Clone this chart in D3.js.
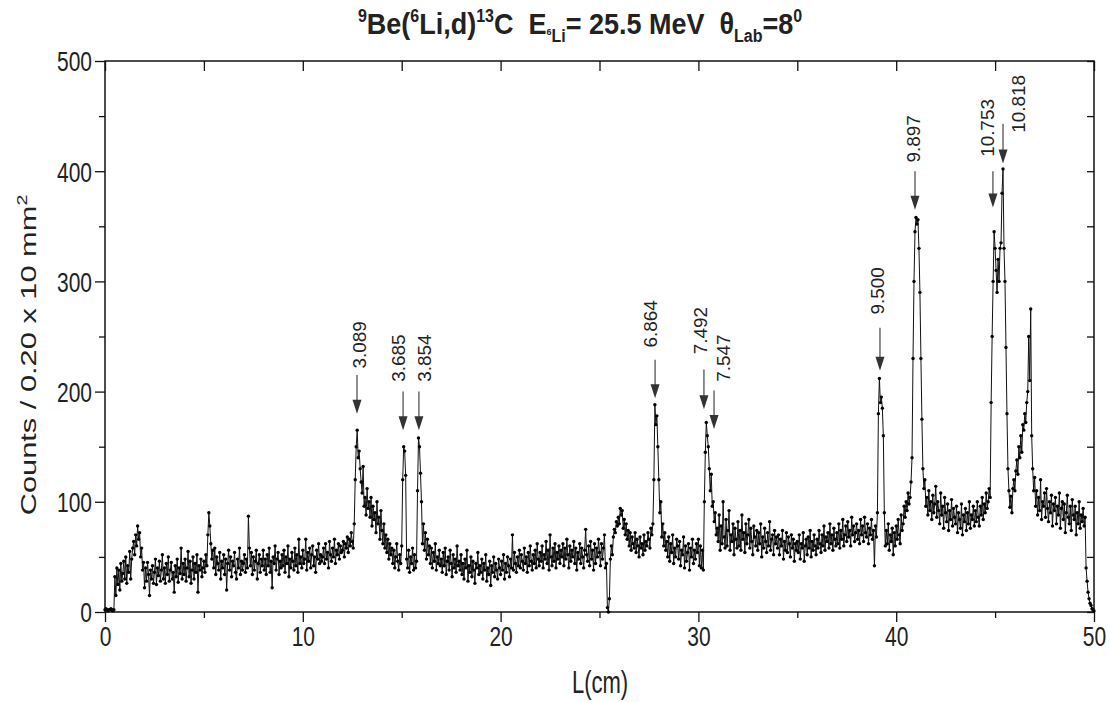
<!DOCTYPE html>
<html lang="en">
<head>
<meta charset="utf-8">
<title>9Be(6Li,d)13C spectrum</title>
<script src="https://cdnjs.cloudflare.com/ajax/libs/d3/7.7.0/d3.min.js"></script>
<style>
  body { margin: 0; background: #fff; }
  svg text { font-family: "Liberation Sans", Arial, sans-serif; fill: #222; }
</style>
</head>
<body>
<div id="chart"></div>
<script>
// counts per 0.05 cm bin (one row per cm)
const binWidth = 0.05;
const counts = [
  2,3,2,1,2,2,3,2,1,2, 32,15,40,25,38,20,44,28,35,46,
  30,50,26,42,36,55,30,48,58,64, 52,70,60,78,66,72,50,58,38,45,
  22,40,28,45,34,15,38,30,42,26, 36,48,25,40,33,46,28,38,52,30,
  40,26,44,34,50,28,38,45,30,36, 18,42,32,48,27,40,35,58,30,44,
  34,48,28,40,55,32,46,26,38,50, 30,44,36,52,18,42,38,48,32,40,
  46,36,52,42,70,90,78,62,48,56, 40,58,34,50,44,38,54,30,46,40,
  52,34,48,20,44,56,38,50,32,46, 42,54,36,30,48,40,58,34,46,38,
  44,52,36,48,40,87,58,42,54,34, 50,38,46,56,30,44,52,36,48,42,
  56,38,48,34,52,42,58,36,46,22, 50,44,60,38,48,54,34,46,40,52,
  42,56,36,50,44,60,32,48,40,54, 46,38,58,42,52,36,66,44,50,40,
  56,44,48,66,38,54,46,58,40,52, 60,42,50,36,56,48,62,44,52,46,
  50,58,44,62,48,54,40,64,52,46, 58,50,66,44,56,52,62,48,60,54,
  56,64,50,62,58,68,54,66,60,72, 64,58,80,120,150,165,140,146,130,118,
  108,132,96,104,88,112,94,100,86,104, 78,96,84,90,72,100,80,86,66,92,
  74,62,80,58,70,54,66,48,62,52, 58,44,56,40,50,62,46,38,52,44,
  60,120,150,146,124,48,40,56,36,50, 44,58,38,52,40,46,110,158,150,126,
  100,62,80,56,72,48,66,52,60,44, 58,40,54,46,62,38,50,44,56,42,
  48,36,54,42,58,34,46,50,38,56, 44,32,52,40,48,36,60,42,46,38,
  52,34,44,30,48,40,56,28,42,36, 50,32,46,38,26,44,40,54,34,42,
  36,48,30,44,38,52,28,40,34,46, 24,42,36,50,32,44,38,30,48,40,
  34,46,38,52,30,44,36,50,42,32, 48,40,70,38,54,44,36,50,42,56,
  40,52,46,38,58,44,50,36,54,42, 60,46,38,52,44,56,40,62,48,42,
  54,46,60,40,52,48,64,44,56,38, 70,50,42,58,46,62,40,54,48,60,
  44,56,50,62,42,58,48,66,52,40, 60,46,56,50,64,44,58,38,54,48,
  62,44,58,50,40,56,75,52,46,60, 42,64,48,56,38,62,44,58,50,66,
  54,42,62,48,58,70,40,44,4,0, 12,48,60,52,68,75,72,82,78,86,
  80,94,88,92,76,84,70,80,66,74, 60,72,56,68,62,58,72,54,66,60,
  50,68,58,62,52,70,56,64,60,72, 66,58,76,70,80,120,188,170,178,150,
  120,90,100,68,80,60,72,56,64,50, 68,46,62,54,70,44,58,50,66,60,
  48,64,42,56,52,68,40,60,46,54, 62,38,58,50,66,44,56,48,62,54,
  66,42,60,40,56,38,100,145,172,160, 150,130,110,125,96,100,82,90,70,76,
  64,88,56,78,62,100,68,58,84,60, 74,92,56,70,64,80,52,76,66,58,
  82,60,74,56,88,66,72,54,80,62, 70,84,58,76,64,52,78,68,60,74,
  56,72,62,80,50,68,58,76,64,54, 72,60,82,56,66,70,52,74,62,68,
  58,70,52,66,60,74,48,64,56,72, 54,68,62,50,70,58,66,46,62,56,
  64,54,70,48,62,58,72,46,60,66, 52,68,58,74,50,64,56,70,60,52,
  66,58,74,62,54,70,60,78,56,68, 64,72,58,80,62,70,56,76,66,60,
  72,62,80,58,74,66,84,60,70,78, 64,82,68,74,60,86,70,78,64,72,
  80,66,74,62,84,70,78,64,86,72, 68,80,62,76,70,84,66,74,42,78,
  68,90,180,212,190,195,185,160,90,60, 74,62,80,56,70,64,76,52,72,60,
  78,66,84,70,62,88,74,80,96,86, 100,92,108,98,104,118,140,230,300,345,
  358,352,356,330,290,230,175,130,112,120, 96,104,88,110,92,100,84,106,90,98,
  114,86,100,92,80,108,88,96,76,104, 90,82,98,74,92,84,102,78,94,86,
  80,96,72,90,84,76,98,70,88,82, 94,74,90,80,100,76,88,84,96,78,
  92,82,100,86,78,96,88,104,84,98, 90,108,94,100,112,104,190,250,300,345,
  330,310,290,320,300,330,335,380,402,330, 300,240,180,130,110,95,105,90,112,120,
  110,128,138,125,150,140,160,145,170,165, 180,172,190,200,250,210,275,160,130,110,
  122,96,110,88,104,92,120,84,100,96, 108,86,112,94,82,100,90,106,78,98,
  92,104,80,96,88,108,76,94,100,84, 98,72,90,106,86,80,96,74,102,88,
  84,96,70,90,80,100,76,88,82,94, 78,86,40,28,18,12,8,6,3,2,
  1
];

// peak markers: label, arrow position (cm), arrow top/tip (counts), label position
const peakLabels   = ["3.089","3.685","3.854","6.864","7.492","7.547","9.500","9.897","10.753","10.818"];
const peakArrowL   = [12.74, 15.07, 15.87, 27.81, 30.28, 30.79, 39.18, 40.95, 44.89, 45.40];
const peakArrowTop = [215, 200, 200, 229, 220, 201, 258, 400, 400, 443];
const peakArrowTip = [180, 165, 165, 194, 184, 166, 219, 365, 367, 407];
const peakLabelL   = [12.89, 14.86, 16.13, 27.60, 30.13, 31.29, 39.08, 40.85, 44.64, 46.16];
const peakLabelY   = [221, 209, 209, 240, 234, 209, 270, 408, 413, 435];

const xTicks = [0, 10, 20, 30, 40, 50];
const xMinor = [5, 15, 25, 35, 45];
const yTicks = [0, 100, 200, 300, 400, 500];
const yMinor = [50, 150, 250, 350, 450];

const W = 1110, H = 702;
const x = d3.scaleLinear().domain([0, 50]).range([105, 1094]);
const y = d3.scaleLinear().domain([0, 500]).range([612, 61]);

const svg = d3.select("#chart").append("svg")
  .attr("width", W).attr("height", H);

const sTick = 1.3;   // the original figure is stretched vertically

// axes
const bottom = svg.append("g").attr("transform", "translate(0,612)")
  .call(d3.axisBottom(x).tickValues(xTicks).tickSize(10).tickSizeOuter(0).tickFormat(d3.format("d")));
svg.append("g").attr("transform", "translate(0,612)")
  .call(d3.axisBottom(x).tickValues(xMinor).tickSize(6).tickSizeOuter(0).tickFormat(""));
const left = svg.append("g").attr("transform", "translate(105,0)")
  .call(d3.axisLeft(y).tickValues(yTicks).tickSize(10).tickSizeOuter(0));
svg.append("g").attr("transform", "translate(105,0)")
  .call(d3.axisLeft(y).tickValues(yMinor).tickSize(6).tickSizeOuter(0).tickFormat(""));
svg.append("g").attr("transform", "translate(0,61)")
  .call(d3.axisTop(x).tickValues(xTicks.concat(xMinor)).tickSize(-10).tickSizeOuter(0).tickFormat(""));
svg.append("g").attr("transform", "translate(1094,0)")
  .call(d3.axisRight(y).tickValues(yTicks.concat(yMinor)).tickSize(-7).tickSizeOuter(0).tickFormat(""));

svg.selectAll(".domain").remove();
svg.selectAll(".tick line").attr("stroke", "#111").attr("stroke-width", 1.3);

bottom.selectAll("text")
  .attr("font-size", 21).attr("y", 15 / sTick)
  .attr("transform", "scale(1," + sTick + ")");
left.selectAll("text")
  .attr("font-size", 21).attr("x", -13).attr("dy", "0.36em")
  .attr("transform", "scale(1," + sTick + ")");

// frame
svg.append("rect")
  .attr("x", x(0)).attr("y", y(500))
  .attr("width", x(50) - x(0)).attr("height", y(0) - y(500))
  .attr("fill", "none").attr("stroke", "#111").attr("stroke-width", 1.5);

// spectrum
const pts = counts.map((c, i) => ({ L: i * binWidth, c: c }));
svg.append("path")
  .datum(pts)
  .attr("fill", "none")
  .attr("stroke", "#111")
  .attr("stroke-width", 1)
  .attr("d", d3.line().x(d => x(d.L)).y(d => y(d.c)));
svg.selectAll(".dot")
  .data(pts)
  .enter()
  .append("circle")
  .attr("class", "dot")
  .attr("cx", d => x(d.L))
  .attr("cy", d => y(d.c))
  .attr("r", 1.7)
  .attr("fill", "#000");

// peak arrows
peakLabels.forEach((lab, i) => {
  const ax = x(peakArrowL[i]);
  const top = y(peakArrowTop[i]);
  const tip = y(peakArrowTip[i]);
  svg.append("line")
    .attr("x1", ax).attr("x2", ax)
    .attr("y1", top).attr("y2", tip - 10)
    .attr("stroke", "#444").attr("stroke-width", 1.2);
  svg.append("path")
    .attr("d", "M" + (ax - 4.5) + "," + (tip - 14) + "L" + (ax + 4.5) + "," + (tip - 14) + "L" + ax + "," + tip + "Z")
    .attr("fill", "#333");
  svg.append("text")
    .attr("transform", "translate(" + x(peakLabelL[i]) + "," + y(peakLabelY[i]) + ") scale(1,1.05) rotate(-90)")
    .attr("dy", "0.36em")
    .attr("font-size", 18)
    .text(lab);
});

// axis titles
svg.append("text")
  .attr("transform", "translate(600,693) scale(1,1.4)")
  .attr("text-anchor", "middle")
  .attr("font-size", 22)
  .text("L(cm)");

const ylab = svg.append("text")
  .attr("transform", "translate(36,355) scale(1,1.4) rotate(-90)")
  .attr("text-anchor", "middle")
  .attr("font-size", 22);
ylab.append("tspan").text("Counts / 0.20 x 10 mm");
ylab.append("tspan").attr("font-size", 14).attr("dy", -9).text("2");

// title
const titleParts = [
  ["9", 16, -11], ["Be(", 27, 0], ["6", 16, -11], ["Li,d)", 27, 0],
  ["13", 16, -11], ["C  E", 27, 0], ["6", 9, 1], ["Li", 16, 7],
  ["= 25.5 MeV  \u03b8", 27, 0], ["Lab", 16, 7], ["=8", 27, 0], ["0", 16, -11]
];
const title = svg.append("text")
  .attr("transform", "translate(580,34) scale(1,1.1)")
  .attr("text-anchor", "middle")
  .attr("font-weight", "bold")
  .style("white-space", "pre");
let prev = 0;
titleParts.forEach(p => {
  title.append("tspan")
    .attr("font-size", p[1])
    .attr("dy", p[2] - prev)
    .text(p[0]);
  prev = p[2];
});
</script>
</body>
</html>
